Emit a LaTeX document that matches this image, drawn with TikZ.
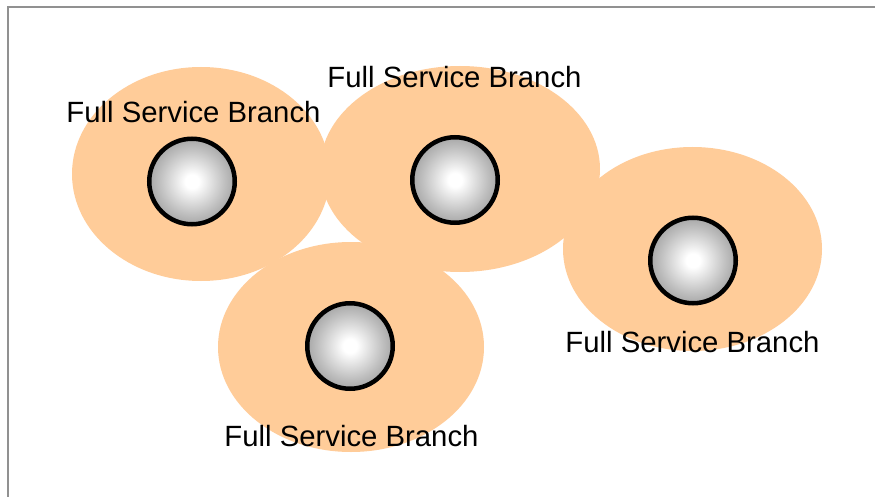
\documentclass[tikz,border=0pt]{standalone}
\usepackage{fontspec}
\setmainfont{Liberation Sans}
\usetikzlibrary{shapes.geometric}
\definecolor{peach}{RGB}{255,204,153}
\definecolor{framegray}{RGB}{145,145,145}
\definecolor{balledge}{RGB}{128,128,128}
% white core fading to grey at the rim
\pgfdeclareradialshading{ballshade}{\pgfpointorigin}{%
  color(0bp)=(white); color(4bp)=(white); color(19bp)=(white!50!balledge);
  color(35bp)=(balledge); color(60bp)=(balledge)}
\begin{document}
\begin{tikzpicture}[x=1pt,y=-1pt,
  zone/.style={ellipse,fill=peach,draw=none,inner sep=0pt},
  ball/.style={circle,minimum size=85.5pt,inner sep=0pt,line width=4.5pt,draw=black,
    shading=ballshade},
  branchlabel/.style={anchor=base,inner sep=0pt,font=\fontsize{29.3}{34}\selectfont}]
  \useasboundingbox (0,0) rectangle (875,497);
  \fill[white] (0,0) rectangle (875,497);
  % outer frame
  \coordinate (fb) at (8,500);
  \coordinate (fc) at (8,7);
  \coordinate (fr) at (878,7);
  \draw[framegray,line width=2pt] (fb) -- (fc) -- (fr);
  % service areas
  \node[zone,minimum width=258pt,minimum height=214pt] (z1) at (201,174) {};
  \node[zone,minimum width=280pt,minimum height=206pt] (z2) at (460,169) {};
  \node[zone,minimum width=259pt,minimum height=204pt] (z3) at (692.5,249) {};
  \node[zone,minimum width=266pt,minimum height=210pt] (z4) at (351,347) {};
  % branches
  \node[ball] (b1) at (192,181.5) {};
  \node[ball] (b2) at (455,180) {};
  \node[ball] (b3) at (693,260.5) {};
  \node[ball] (b4) at (350,346) {};
  % labels
  \node[branchlabel] (l1) at (193.5,123) {Full Service Branch};
  \node[branchlabel] (l2) at (454.5,88) {Full Service Branch};
  \node[branchlabel] (l3) at (692.5,352.5) {Full Service Branch};
  \node[branchlabel] (l4) at (351.5,446.5) {Full Service Branch};
\end{tikzpicture}
\end{document}
